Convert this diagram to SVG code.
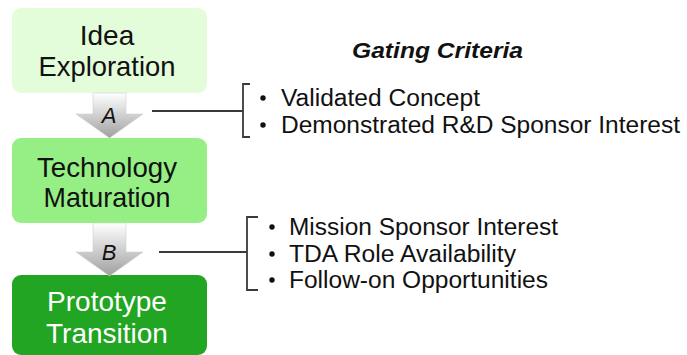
<svg xmlns="http://www.w3.org/2000/svg" width="687" height="355" viewBox="0 0 687 355">
<defs>
<linearGradient id="arr" x1="0" y1="0" x2="0" y2="1">
<stop offset="0" stop-color="#ffffff"/>
<stop offset="1" stop-color="#a0a0a0"/>
</linearGradient>
<style>
.box-text{font-family:"Liberation Sans",Arial,sans-serif;font-size:28px;text-anchor:middle;fill:#111}
.lbl{font-family:"Liberation Sans",Arial,sans-serif;font-size:22px;font-style:italic;text-anchor:middle;fill:#111}
.item{font-family:"Liberation Sans",Arial,sans-serif;font-size:23px;fill:#111}
.conn{fill:none;stroke:#3a3a3a;stroke-width:1.8}
.arrow{fill:url(#arr);stroke:#d0d0d0;stroke-width:0.6}
</style>
</defs>
<rect width="687" height="355" fill="#ffffff"/>

<g id="node-idea">
<rect x="12" y="8" width="195" height="85" rx="9" fill="#e3fcda"/>
<text class="box-text" x="107" y="45">Idea</text>
<text class="box-text" x="107" y="76" textLength="137" lengthAdjust="spacingAndGlyphs">Exploration</text>
</g>

<g id="node-tech">
<rect x="12" y="138" width="195" height="85" rx="9" fill="#95ef84"/>
<text class="box-text" x="107" y="177" textLength="140" lengthAdjust="spacingAndGlyphs">Technology</text>
<text class="box-text" x="107" y="207" textLength="127" lengthAdjust="spacingAndGlyphs">Maturation</text>
</g>

<g id="node-proto">
<rect x="12" y="275" width="195" height="80" rx="9" fill="#22a522"/>
<text class="box-text" x="107" y="311" style="fill:#ffffff">Prototype</text>
<text class="box-text" x="107" y="343" style="fill:#ffffff">Transition</text>
</g>

<g id="gate-a">
<polygon class="arrow" points="93,93 126,93 126,114 143,114 109.5,138 76,114 93,114"/>
<text class="lbl" x="109" y="123">A</text>
</g>

<g id="gate-b">
<polygon class="arrow" points="93,223 126,223 126,252 143,252 109.5,276 76,252 93,252"/>
<text class="lbl" x="109" y="260">B</text>
</g>

<g id="connectors">
<path class="conn" d="M152,111 H243"/>
<path class="conn" d="M250,84 H243 V137 H250"/>
<path class="conn" d="M159,252 H247"/>
<path class="conn" d="M258,217 H247 V290 H258"/>
</g>

<g id="criteria-title">
<text x="352" y="58" style="font-family:'Liberation Sans',Arial,sans-serif;font-size:22px;font-weight:bold;font-style:italic;fill:#111" textLength="171" lengthAdjust="spacingAndGlyphs">Gating Criteria</text>
</g>

<g id="criteria-a">
<circle cx="263" cy="98" r="2.7" fill="#111"/>
<text class="item" x="281" y="106" textLength="199" lengthAdjust="spacingAndGlyphs">Validated Concept</text>
<circle cx="263" cy="125" r="2.7" fill="#111"/>
<text class="item" x="281" y="133" textLength="399" lengthAdjust="spacingAndGlyphs">Demonstrated R&amp;D Sponsor Interest</text>
</g>

<g id="criteria-b">
<circle cx="272" cy="227" r="2.7" fill="#111"/>
<text class="item" x="289" y="235" textLength="269" lengthAdjust="spacingAndGlyphs">Mission Sponsor Interest</text>
<circle cx="272" cy="254" r="2.7" fill="#111"/>
<text class="item" x="289" y="262" textLength="227" lengthAdjust="spacingAndGlyphs">TDA Role Availability</text>
<circle cx="272" cy="280" r="2.7" fill="#111"/>
<text class="item" x="289" y="288" textLength="259" lengthAdjust="spacingAndGlyphs">Follow-on Opportunities</text>
</g>
</svg>
